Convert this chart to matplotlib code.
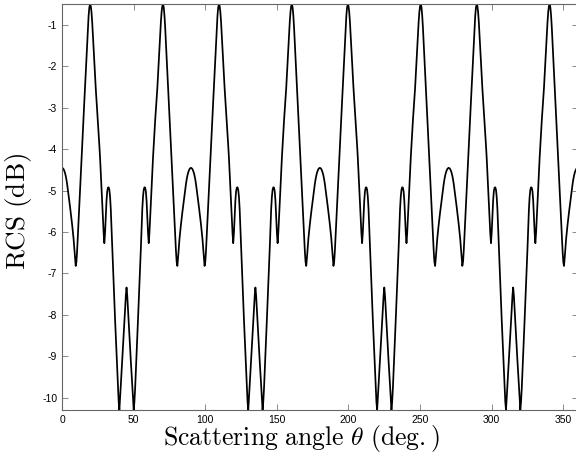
import numpy as np
import matplotlib.pyplot as plt

# RCS for half a period (0..45 deg); the curve is
# symmetric about 45 deg and repeats every 90 deg
half_angle = np.arange(0, 45.5, 0.5)
half_rcs = [
    -4.45, -4.46, -4.48, -4.52, -4.57, -4.64, -4.73, -4.84, -4.97, -5.10,
    -5.24, -5.38, -5.52, -5.66, -5.82, -5.98, -6.16, -6.38, -6.62, -6.82,
    -6.72, -6.45, -6.10, -5.72, -5.35, -5.00, -4.65, -4.30, -3.93, -3.57,
    -3.21, -2.86, -2.51, -2.15, -1.79, -1.42, -1.07, -0.78, -0.58, -0.50,
    -0.54, -0.68, -0.92, -1.22, -1.56, -1.90, -2.22, -2.53, -2.80, -3.05,
    -3.30, -3.60, -3.90, -4.20, -4.55, -4.92, -5.28, -5.65, -6.02, -6.27,
    -6.02, -5.62, -5.25, -5.02, -4.93, -4.92, -4.98, -5.15, -5.45, -5.90,
    -6.40, -6.85, -7.28, -7.70, -8.12, -8.52, -8.93, -9.35, -9.78, -10.10,
    -10.30, -10.02, -9.70, -9.40, -9.12, -8.84, -8.54, -8.20, -7.86, -7.54,
    -7.34,
]
period = 90

half_rcs = np.array(half_rcs)
one_angle = np.concatenate([half_angle, period - half_angle[-2::-1]])
one_rcs = np.concatenate([half_rcs, half_rcs[-2::-1]])
angle = np.concatenate([one_angle[:-1] + k * period for k in range(4)] + [[360]])
rcs = np.concatenate([one_rcs[:-1]] * 4 + [[one_rcs[0]]])

plt.rcParams['mathtext.fontset'] = 'cm'
plt.rcParams['font.family'] = 'Liberation Sans'
plt.rcParams['axes.unicode_minus'] = False

fig = plt.figure(figsize=(5.76, 4.57), dpi=100)
ax = fig.add_axes([62.1 / 576, 47 / 457, 515.5 / 576, 405.7 / 457])
ax.plot(angle, rcs, '-', color='black', lw=1.25)

ax.set_xlim(0, 360)
ax.set_ylim(-10.3, -0.5)
ax.set_xticks(np.arange(0, 351, 50))
ax.set_yticks(np.arange(-10, 0, 1))
ax.tick_params(direction='in', length=4, width=0.6, color='#777777',
               labelsize=7.5, top=True, right=True, pad=3.5)
for s in ax.spines.values():
    s.set_color('#666666')
    s.set_linewidth(0.8)

xl = ax.set_xlabel(r'$\mathrm{Scattering\ angle\ }\theta\mathrm{\ (deg.)}$', fontsize=18.5)
xl.set_va('center')
ax.xaxis.set_label_coords(0.465, -0.071, transform=ax.transAxes)
yl = ax.set_ylabel(r'$\mathrm{RCS\ (dB)}$', fontsize=19.5)
yl.set_va('center')
ax.yaxis.set_label_coords(-0.0846, 0.49, transform=ax.transAxes)

fig.savefig('out.png', dpi=100)
